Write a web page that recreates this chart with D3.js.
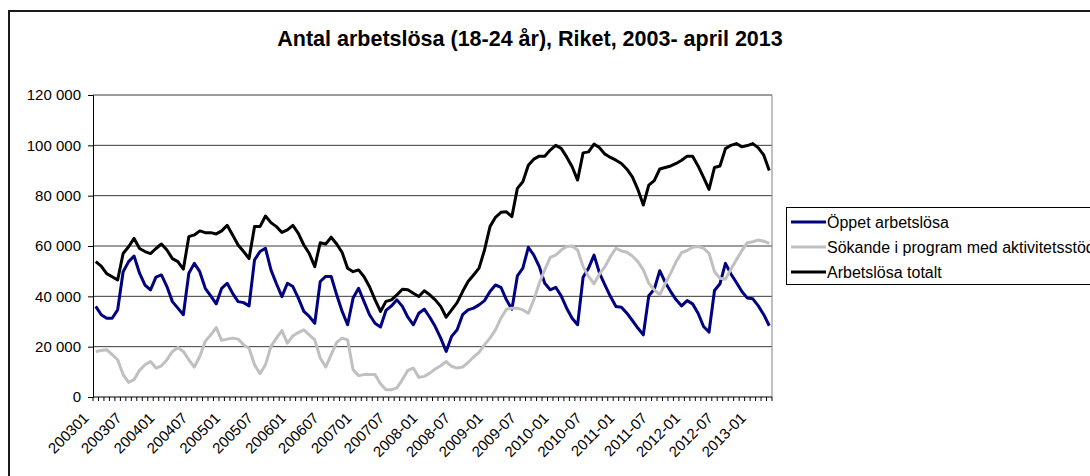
<!DOCTYPE html>
<html lang="sv">
<head>
    <meta charset="UTF-8">
    <title>Antal arbetslösa (18-24 år)</title>
    <script src="https://d3js.org/d3.v7.min.js"></script>
    <style>
        body { margin: 0; background: #fff; overflow: hidden; }
        svg { display: block; }
        text { font-family: Arial, "Liberation Sans", sans-serif; fill: #000; }
        .title { font-size: 21.5px; font-weight: bold; }
        .tick-label { font-size: 15px; }
        .legend-label { font-size: 16px; }
    </style>
</head>
<body>
    <svg id="chart" width="1090" height="476"></svg>
    <script>
    // values in thousands, monthly, 2003-01 .. 2013-04
    const oppetArbetslosa = [
        36, 32.7, 31.3, 31.3, 34.6, 49.8, 53.8, 56, 49.2, 44.5, 42.6, 47.6,
        48.5, 43.9, 37.9, 35.3, 32.7, 49.2, 53.1, 49.8, 43.2, 40.2, 37, 43.2,
        45.2, 41.2, 37.9, 37.5, 36.2, 54.5, 57.8, 59.1, 50.5, 45, 39.9, 45.2,
        43.9, 39.3, 34, 32, 29.3, 45.9, 47.9, 47.9, 40.6, 34, 28.7, 39.3,
        43.2, 37.9, 32.7, 29.3, 27.8, 34.4, 36.2, 38.6, 36, 31.7, 28.7, 33.3,
        34.9, 31.7, 28, 23.4, 18.1, 24.1, 26.7, 32.7, 34.6, 35.3, 36.6, 38.3,
        41.9, 44.5, 43.6, 38.6, 34.9, 48.1, 51.2, 59.5, 56.4, 51.8, 45.2, 42.6,
        43.6, 40.2, 35.3, 31.3, 28.7, 47.6, 51.2, 56.4, 49.2, 44.5, 39.9, 36,
        35.7, 33.3, 30.4, 27.4, 24.7, 40.2, 42.8, 50.2, 45.5, 41.9, 38.6, 36.2,
        38.3, 37, 33.3, 28, 25.8, 42.3, 45, 53.1, 48.9, 45.5, 41.9, 39.3,
        39, 36.2, 32.7, 28.3
    ];
    const sokandeProgram = [
        18.1, 18.5, 18.8, 16.8, 14.8, 8.9, 5.8, 6.9, 10.6, 12.8, 14.1, 11.5,
        12.4, 14.8, 18.1, 19.7, 18.1, 14.8, 11.9, 16.1, 22.1, 24.7, 27.6, 22.5,
        23, 23.4, 23, 20.8, 19.4, 12.8, 9.3, 12.8, 20.1, 23.4, 26.4, 21.4,
        24.3, 25.6, 26.7, 24.7, 22.7, 15.5, 11.9, 16.8, 21.7, 23.4, 22.7, 10.8,
        8.5, 8.9, 8.9, 8.9, 5.3, 2.9, 2.9, 3.6, 6.9, 10.6, 11.5, 7.8,
        8.2, 9.5, 11.1, 12.4, 14.1, 12.2, 11.5, 11.9, 13.7, 15.9, 17.7, 20.8,
        23.4, 26.7, 31.3, 34.9, 35.3, 35.3, 34.6, 33.3, 38.6, 45.2, 50.5, 55.5,
        56.4, 58.4, 59.8, 60, 58.4, 51.8, 47.9, 45, 48.9, 51.8, 55.8, 59.1,
        58, 57.5, 56, 53.8, 50.5, 45.2, 42.6, 40.6, 45, 49.2, 53.8, 57.4,
        58.2, 59.5, 59.8, 59.1, 57.1, 49.8, 47.2, 46.8, 50.8, 54.5, 58.2, 61.3,
        61.7, 62.4, 61.9, 61
    ];
    const arbetslosaTotalt = [
        53.8, 52, 49, 47.8, 46.5, 57, 59.7, 63, 59, 57.8, 57, 59,
        60.8, 58.4, 55, 53.8, 50.8, 63.7, 64.4, 66, 65.3, 65.3, 64.8, 66,
        68.2, 64.4, 60.4, 57.8, 55, 67.7, 67.7, 71.9, 69.3, 67.7, 65.4, 66.4,
        68.2, 65, 60.4, 57, 51.8, 61.3, 60.8, 63.5, 60.8, 57.4, 51.2, 49.8,
        50.5, 47.8, 43.8, 38.7, 34, 38, 38.6, 40.6, 42.8, 42.6, 41.2, 39.9,
        42.2, 40.6, 38.6, 36, 31.7, 34.6, 37.5, 41.9, 45.9, 48.5, 51.2, 58.4,
        67.7, 71.4, 73.4, 73.6, 71.7, 82.9, 85.5, 92.1, 94.5, 95.7, 95.7, 98.1,
        100, 98.8, 95.4, 91.5, 86.2, 97, 97.4, 100.5, 99, 96.5, 95.2, 94.1,
        92.8, 90.5, 87.5, 82.5, 76.3, 84.2, 86, 90.6, 91.2, 91.8, 92.8, 94.1,
        95.7, 95.7, 91.8, 87.3, 82.5, 91.2, 91.8, 98.7, 100, 100.7, 99.4, 99.9,
        100.7, 99, 96.1, 90
    ];
    const seriesNames = ["Öppet arbetslösa", "Sökande i program med aktivitetsstöd", "Arbetslösa totalt"];
    const seriesColors = ["#000080", "#c0c0c0", "#000000"];
    const yTicks = [0, 20000, 40000, 60000, 80000, 100000, 120000];

    // month categories: "200301" style up to 2007, "2008-01" style after
    const months = [];
    for (let y = 2003; y <= 2013; y++) {
        for (let m = 1; m <= 12; m++) {
            if (y === 2013 && m > 4) break;
            const mm = String(m).padStart(2, "0");
            months.push(y < 2008 ? `${y}${mm}` : `${y}-${mm}`);
        }
    }
    const labelEvery = 6;

    const series = [oppetArbetslosa, sokandeProgram, arbetslosaTotalt].map((vals, k) => ({
        name: seriesNames[k],
        color: seriesColors[k],
        values: vals.map(v => v * 1000)
    }));

    const svg = d3.select("#chart");
    const plot = { left: 93, right: 772, top: 95, bottom: 397 };

    // outer chart border (runs off the right and bottom edge)
    svg.append("rect")
        .attr("x", 9).attr("y", 11)
        .attr("width", 1100).attr("height", 500)
        .attr("fill", "#fff")
        .attr("stroke", "#1a1a1a")
        .attr("stroke-width", 2);

    svg.append("text")
        .attr("class", "title")
        .attr("x", 530).attr("y", 46)
        .attr("text-anchor", "middle")
        .text("Antal arbetslösa (18-24 år), Riket, 2003- april 2013");

    const x = d3.scaleBand()
        .domain(months)
        .range([plot.left, plot.right]);

    const y = d3.scaleLinear()
        .domain([0, 120000])
        .range([plot.bottom, plot.top]);

    const fmt = v => d3.format(",")(v).replace(/,/g, " ");

    // gridlines
    svg.append("g")
        .selectAll("line")
        .data(yTicks.filter(d => d > 0))
        .join("line")
        .attr("x1", plot.left).attr("x2", plot.right)
        .attr("y1", d => y(d)).attr("y2", d => y(d))
        .attr("stroke", "#3a3a3a")
        .attr("stroke-width", 1);

    // right border of plot area
    svg.append("line")
        .attr("x1", plot.right).attr("x2", plot.right)
        .attr("y1", plot.top).attr("y2", plot.bottom)
        .attr("stroke", "#808080");

    // y axis
    const yAxis = svg.append("g")
        .attr("transform", `translate(${plot.left},0)`)
        .call(d3.axisLeft(y).tickValues(yTicks).tickFormat(fmt).tickSize(5).tickPadding(7));
    yAxis.select(".domain").attr("stroke", "#000");
    yAxis.selectAll(".tick line").attr("stroke", "#000");
    yAxis.selectAll("text")
        .attr("class", "tick-label")
        .attr("font-family", null).attr("font-size", null);

    // x axis: ticks between categories
    const bounds = months.map(m => x(m)).concat([plot.right]);
    const xAxis = svg.append("g");
    xAxis.append("line")
        .attr("x1", plot.left).attr("x2", plot.right)
        .attr("y1", plot.bottom).attr("y2", plot.bottom)
        .attr("stroke", "#000");
    xAxis.selectAll("line.tk")
        .data(bounds)
        .join("line")
        .attr("class", "tk")
        .attr("x1", d => d).attr("x2", d => d)
        .attr("y1", plot.bottom).attr("y2", plot.bottom + 4)
        .attr("stroke", "#000");

    xAxis.selectAll("text")
        .data(months.filter((m, i) => i % labelEvery === 0))
        .join("text")
        .attr("class", "tick-label")
        .attr("text-anchor", "end")
        .attr("transform", d => `translate(${x(d) + x.bandwidth() / 2 - 6},${plot.bottom + 22}) rotate(-45)`)
        .text(d => d);

    // series lines
    const line = d3.line()
        .x((d, i) => x(months[i]) + x.bandwidth() / 2)
        .y(d => y(d));

    svg.append("g")
        .selectAll("path")
        .data(series)
        .join("path")
        .attr("fill", "none")
        .attr("stroke", d => d.color)
        .attr("stroke-width", 3)
        .attr("stroke-linejoin", "round")
        .attr("d", d => line(d.values));

    // legend (box and last label run off the right edge, as in the original)
    const legend = svg.append("g");
    legend.append("rect")
        .attr("x", 786.5).attr("y", 207.5)
        .attr("width", 400).attr("height", 77)
        .attr("fill", "#fff")
        .attr("stroke", "#000");

    const item = legend.selectAll("g.item")
        .data(series)
        .join("g")
        .attr("class", "item")
        .attr("transform", (d, i) => `translate(0,${222 + i * 25})`);
    item.append("line")
        .attr("x1", 791).attr("x2", 826)
        .attr("stroke", d => d.color)
        .attr("stroke-width", 3);
    item.append("text")
        .attr("class", "legend-label")
        .attr("x", 827).attr("y", 5.5)
        .text(d => d.name);
    </script>
</body>
</html>
